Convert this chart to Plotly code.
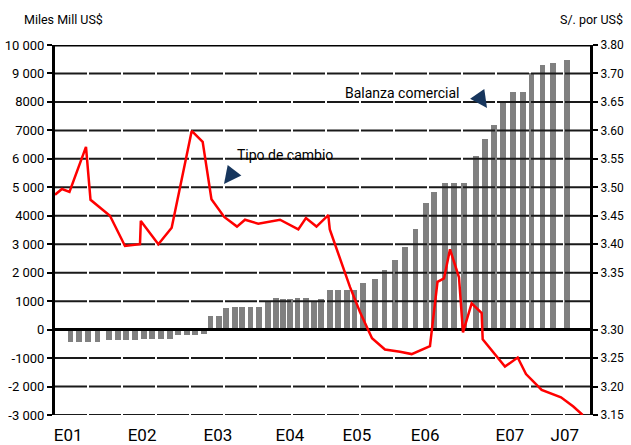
import plotly.graph_objects as go

# ---------------- data ----------------
# Balanza comercial (Miles Mill US$); position in months since Jan-2001
bar_month = [0, 1.3, 2.7, 4.2, 6.0, 7.4, 8.7, 10.1, 11.5, 12.8, 14.2, 15.6, 16.8, 18.2, 19.5, 20.9,
             21.9, 23.3, 24.4, 25.8, 26.9, 28.2, 29.5, 30.9, 32.2, 33.3, 34.4, 35.6, 36.9, 38.2, 39.3,
             40.7, 41.9, 43.3, 44.5, 45.8, 47.7, 49.2, 50.9, 52.4, 54.1, 55.7, 57.0, 58.7, 60.1, 61.7,
             63.6, 65.0, 66.4, 67.8, 69.4, 70.9, 72.3, 74.0, 75.6, 77.8]
bar_value = [-440, -440, -440, -440, -380, -380, -380, -380, -330, -330, -330, -330, -180, -180, -180, -170,
             470, 470, 760, 800, 800, 800, 800, 965, 1110, 1070, 1070, 1110, 1110, 1000, 1070,
             1390, 1390, 1390, 1390, 1635, 1775, 2095, 2430, 2900, 3530, 4435, 4825, 5140, 5140, 5140,
             6110, 6710, 7205, 7970, 8350, 8350, 9030, 9290, 9360, 9470]

# Tipo de cambio (S/. por US$)
line_month = [-2.46, -1.36, -0.19, 2.40, 3.11, 4.33, 6.16, 8.52, 10.87, 11.0, 13.75, 15.84, 18.98, 20.70,
              22.08, 24.08, 26.08, 27.34, 29.42, 32.83, 35.70, 36.90, 38.55, 40.40, 40.64, 43.80, 45.37,
              47.26, 49.29, 51.65, 53.48, 56.35, 56.87, 57.53, 58.55, 59.49, 60.90, 61.53, 62.89, 64.46,
              64.62, 68.11, 70.11, 71.41, 73.87, 76.90, 78.83, 80.30]
line_rate = [3.537, 3.547, 3.542, 3.621, 3.528, 3.517, 3.500, 3.447, 3.450, 3.491, 3.450, 3.479, 3.649, 3.630,
             3.529, 3.498, 3.481, 3.493, 3.486, 3.493, 3.476, 3.496, 3.481, 3.501, 3.476, 3.375, 3.331,
             3.285, 3.265, 3.261, 3.257, 3.271, 3.323, 3.384, 3.390, 3.441, 3.392, 3.295, 3.346, 3.329,
             3.283, 3.235, 3.251, 3.222, 3.194, 3.181, 3.165, 3.150]

x_tick_pos = [-0.4, 11.2, 23.1, 34.4, 44.9, 55.6, 68.9, 77.5]
x_tick_text = ["E01", "E02", "E03", "E04", "E05", "E06", "E07", "J07"]

left_tick_vals = [10000, 9000, 8000, 7000, 6000, 5000, 4000, 3000, 2000, 1000, 0, -1000, -2000, -3000]
left_tick_text = ["10 000", "9 000", "8000", "7000", "6 000", "5 000", "4000", "3 000", "2 000", "1000",
                  "0", "-1000", "-2 000", "-3 000"]

right_tick_vals = [3.80, 3.75, 3.70, 3.65, 3.60, 3.55, 3.50, 3.45, 3.40, 3.30, 3.25, 3.20, 3.15]
right_tick_text = ["3.80", "3.70", "3.65", "3.60", "3.55", "3.50", "3.45", "3.40", "3.35", "3.30",
                   "3.25", "3.20", "3.15"]

X_MIN, X_MAX = -2.46, 81.45
Y_MIN, Y_MAX = -3000, 10000
R_MIN, R_MAX = 3.15, 3.80

FONT = "Roboto, Liberation Sans, sans-serif"

fig = go.Figure()

fig.add_trace(go.Bar(x=bar_month, y=bar_value, width=0.88, marker=dict(color="#808080", line=dict(width=0)),
                     yaxis="y", hoverinfo="skip", showlegend=False))

# dashed grid drawn above the bars
gx, gy = [], []
for v in left_tick_vals:
    if v in (0, Y_MAX):
        continue
    gx += [X_MIN, X_MAX, None]
    gy += [v, v, None]
fig.add_trace(go.Scatter(x=gx, y=gy, mode="lines", line=dict(color="#1a1a1a", width=2, dash="32px,2px"),
                         hoverinfo="skip", showlegend=False, cliponaxis=False))
sx, sy = [], []
for v in (0, Y_MAX):
    sx += [X_MIN, X_MAX, None]
    sy += [v, v, None]
fig.add_trace(go.Scatter(x=sx, y=sy, mode="lines", line=dict(color="#000000", width=3),
                         hoverinfo="skip", showlegend=False, cliponaxis=False))

fig.add_trace(go.Scatter(x=line_month, y=line_rate, mode="lines", yaxis="y2",
                         line=dict(color="#ff0000", width=2.5), hoverinfo="skip", showlegend=False))

fig.update_layout(
    width=631, height=445,
    margin=dict(l=55, r=41, t=45, b=30),
    plot_bgcolor="white", paper_bgcolor="white",
    font=dict(family=FONT, color="#000000"),
    bargap=0,
    xaxis=dict(range=[X_MIN, X_MAX], showgrid=False, zeroline=False, showline=False, automargin=False,
               tickmode="array", tickvals=x_tick_pos, ticktext=x_tick_text, ticks="",
               tickfont=dict(size=17, family=FONT), ticklabelstandoff=8),
    yaxis=dict(range=[Y_MIN, Y_MAX], showgrid=False, zeroline=False, automargin=False,
               showline=True, linecolor="black", linewidth=3,
               tickmode="array", tickvals=left_tick_vals, ticktext=left_tick_text,
               ticks="outside", ticklen=5, tickwidth=2, tickcolor="black",
               tickfont=dict(size=13, family=FONT)),
    yaxis2=dict(range=[R_MIN, R_MAX], overlaying="y", side="right", showgrid=False, zeroline=False,
                automargin=False, showline=True, linecolor="black", linewidth=3,
                tickmode="array", tickvals=right_tick_vals, ticktext=right_tick_text,
                ticks="outside", ticklen=5, tickwidth=2, tickcolor="black",
                tickfont=dict(size=12, family=FONT)),
)

fig.add_annotation(text="Miles Mill US$", xref="paper", yref="paper", x=0.015, y=1.0676,
                   showarrow=False, font=dict(size=12.5, family=FONT, color="black"), xanchor="center",
                   yanchor="middle")
fig.add_annotation(text="S/. por US$", xref="paper", yref="paper", x=1.0654, y=1.0676,
                   showarrow=False, font=dict(size=12.5, family=FONT, color="black"), xanchor="right",
                   yanchor="middle")
fig.add_annotation(text="Tipo de cambio", xref="paper", yref="paper", x=0.4308, y=0.7027,
                   showarrow=False, font=dict(size=14, family=FONT, color="black"), xanchor="center",
                   yanchor="middle")
fig.add_annotation(text="Balanza comercial", xref="paper", yref="paper", x=0.6495, y=0.8711,
                   showarrow=False, font=dict(size=14, family=FONT, color="black"), xanchor="center",
                   yanchor="middle")
fig.add_annotation(text="", xref="paper", yref="paper", x=0.3159, y=0.6243, ax=10, ay=-13,
                   showarrow=True, arrowhead=2, arrowsize=2.3, arrowwidth=1.5, arrowcolor="#17365d")
fig.add_annotation(text="", xref="paper", yref="paper", x=0.8075, y=0.8297, ax=-9, ay=-13,
                   showarrow=True, arrowhead=2, arrowsize=2.3, arrowwidth=1.5, arrowcolor="#17365d")

fig.write_html("out.html", config={"displayModeBar": False},
               post_script="document.body.style.margin='0';document.body.style.padding='0';")
